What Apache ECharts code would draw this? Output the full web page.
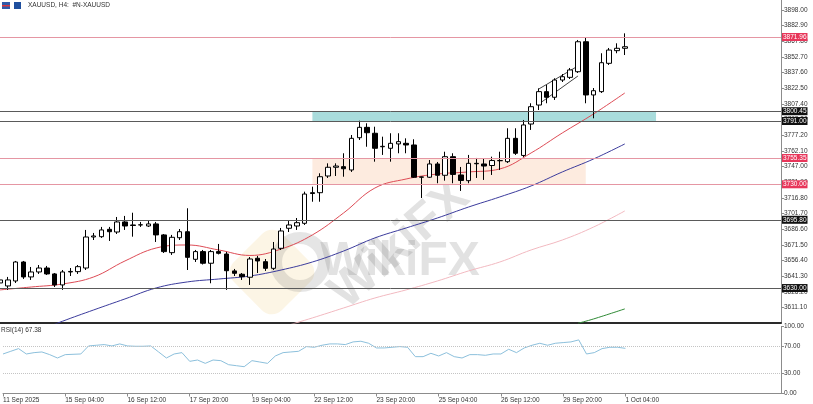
<!DOCTYPE html>
<html><head><meta charset="utf-8">
<style>html,body{margin:0;padding:0;background:#fff}#c{width:813px;height:404px}</style>
<script src="https://cdn.jsdelivr.net/npm/echarts@6/dist/echarts.min.js"></script>
</head><body><div id="c"></div>
<script>
const slotCount = 101; // 81 H4 bars + empty right-shift slots
const tickLabels = ['11 Sep 2025','15 Sep 04:00','16 Sep 12:00','17 Sep 20:00','19 Sep 04:00','22 Sep 12:00','23 Sep 20:00','25 Sep 04:00','26 Sep 12:00','29 Sep 20:00','1 Oct 04:00'];
const priceTicks = [3611.1,3626.2,3641.3,3656.4,3671.5,3686.6,3701.7,3716.8,3731.9,3747.0,3762.1,3777.2,3792.3,3807.4,3822.5,3837.6,3852.7,3867.8,3882.9,3898.0];
const rsiTicks = [0,30,70,100];
// [open, close, low, high]
const ohlc = [
[3634.9,3637.8,3632.0,3640.7],[3632.0,3637.8,3628.2,3640.7],[3636.8,3655.1,3634.9,3656.1],[3655.1,3640.7,3638.8,3656.1],
[3640.7,3645.5,3637.8,3650.3],[3645.5,3649.3,3643.6,3652.2],[3649.3,3643.6,3642.6,3651.3],[3643.6,3633.0,3631.0,3644.5],
[3633.0,3645.5,3628.2,3647.4],[3645.5,3646.0,3641.6,3649.3],[3645.8,3650.6,3643.6,3652.2],[3649.3,3679.2,3647.4,3686.0],
[3679.2,3680.2,3676.3,3683.1],[3679.5,3686.0,3678.3,3688.9],[3686.6,3684.3,3675.4,3688.9],[3684.0,3693.7,3682.1,3698.5],
[3693.7,3689.8,3686.0,3699.5],[3690.8,3690.3,3679.5,3702.6],[3690.8,3691.0,3688.9,3693.7],[3689.8,3691.8,3688.9,3694.6],
[3691.8,3681.2,3674.4,3693.7],[3681.2,3665.1,3663.8,3682.1],[3664.1,3678.9,3661.9,3681.2],[3678.5,3684.3,3676.3,3686.9],
[3684.3,3659.6,3647.4,3706.9],[3657.7,3665.1,3655.1,3666.7],[3665.1,3653.9,3652.7,3666.7],[3653.9,3665.1,3634.6,3666.7],
[3665.1,3663.5,3662.4,3672.5],[3662.8,3646.7,3628.2,3664.8],[3646.5,3644.2,3641.6,3648.4],[3643.3,3641.0,3637.8,3644.5],
[3640.4,3658.0,3633.0,3659.9],[3658.7,3656.1,3644.5,3660.9],[3655.4,3649.0,3646.5,3658.0],[3649.0,3667.6,3647.4,3674.4],
[3668.3,3685.0,3666.7,3687.9],[3687.6,3690.8,3684.0,3694.6],[3689.8,3693.0,3686.0,3697.5],[3692.4,3720.6,3690.8,3722.9],
[3721.9,3721.1,3713.2,3727.7],[3721.9,3737.3,3713.2,3740.6],[3738.0,3746.4,3736.1,3750.2],[3746.4,3747.6,3738.0,3750.2],
[3747.0,3745.0,3737.3,3759.9],[3743.8,3774.3,3741.9,3777.5],[3774.9,3784.9,3772.7,3791.3],[3784.9,3779.7,3766.2,3788.8],
[3779.2,3764.7,3751.8,3785.5],[3766.2,3766.6,3758.3,3775.9],[3764.7,3769.5,3751.8,3779.2],[3768.9,3771.1,3759.9,3779.2],
[3769.5,3767.9,3759.9,3774.3],[3767.9,3736.8,3736.1,3773.4],[3736.8,3737.1,3716.8,3737.5],[3736.8,3749.6,3736.1,3753.4],
[3749.6,3738.7,3731.0,3751.5],[3738.7,3756.6,3733.5,3761.4],[3756.6,3739.5,3731.0,3759.9],[3739.0,3733.7,3723.6,3746.7],
[3733.5,3750.2,3731.0,3758.3],[3750.2,3749.8,3736.1,3755.4],[3749.6,3747.6,3734.2,3754.4],[3748.1,3752.9,3739.0,3756.6],
[3752.7,3752.9,3743.8,3761.4],[3751.8,3774.3,3750.5,3784.0],[3774.3,3759.9,3758.3,3784.0],[3757.8,3787.2,3756.3,3792.0],
[3788.1,3804.8,3782.4,3808.1],[3806.4,3819.3,3801.6,3822.5],[3819.3,3813.9,3808.1,3825.7],[3813.9,3830.5,3811.3,3832.2],
[3830.5,3833.7,3828.6,3836.3],[3833.1,3840.2,3831.5,3842.1],[3838.5,3867.4,3837.3,3869.1],[3867.4,3816.1,3808.1,3871.96],
[3816.1,3820.2,3793.6,3822.8],[3819.3,3847.2,3818.0,3856.3],[3846.6,3859.4,3845.0,3861.4],[3858.8,3861.1,3856.3,3865.9],
[3861.1,3862.6,3854.6,3875.5]
];
const rsi = [59,63,67,59,61,62,58,53,58,58.5,59,71,72,73,71,74,71,70.5,70.5,71,
62,53,59,61,48,50,45,50,49,43,41.5,40,49,47,45,56,61,62,63,
70,69,72,74,74,73,77,78,75,68,68,69,70,69,55,55,60,56,61,55,
53,58,58,57,59,59,66,61,68,72,75,72,75,76,77,80,59,61,67,69,69,67.38];
// moving averages read at sampled bars: [barIndex, price]
const maFast = [[0,3628.2],[4,3631.0],[8,3633.9],[12,3640.7],[16,3656.1],[20,3668.6],[24,3671.5],[28,3666.7],[32,3661.4],[36,3667.6],[40,3681.2],[44,3702.4],[48,3726.4],[52,3735.1],[56,3739.9],[60,3741.9],[64,3744.8],[68,3760.2],[72,3779.5],[76,3797.8],[80,3818.0]];
const maMid = [[6,3592.0],[8,3598.0],[12,3608.9],[16,3619.5],[20,3630.1],[24,3635.9],[28,3638.7],[32,3641.6],[36,3647.4],[40,3655.1],[44,3665.7],[48,3678.3],[52,3687.9],[56,3697.5],[60,3708.1],[64,3717.8],[68,3728.4],[72,3741.9],[76,3754.4],[80,3768.9]];
const maSlow = [[37,3594.4],[40,3601.2],[44,3610.8],[48,3620.4],[52,3628.2],[56,3636.8],[60,3646.5],[64,3655.1],[68,3666.7],[72,3676.3],[76,3688.8],[80,3704.3]];
const maLong = [[74,3596.0],[76,3600.2],[80,3609.9]];
const trendUpper = [[69,3821.9],[74,3844.0]];
const trendLower = [[69,3807.4],[74,3834.4]];
const redLevels = [3871.96, 3755.35, 3730.00];
const blackLevels = [3800.45, 3791.00, 3695.80, 3630.00];
const zoneCyan = [40, 84, 3800.45, 3791.00];
const zonePeach = [40, 75, 3755.35, 3730.00];

const FONT = 'Liberation Sans';
const cats = Array.from({length: slotCount}, (_, i) => i);
const isTick = (i) => i % 8 === 0 && i / 8 < tickLabels.length;
const levelItem = (v, lineColor, tagColor) => ({
  yAxis: v,
  lineStyle: {color: lineColor, width: 1, type: 'solid'},
  label: {show: true, position: 'end', distance: 1, formatter: () => v.toFixed(2),
    color: '#fff', backgroundColor: tagColor, padding: [1, 1, 0, 1], fontSize: 6.5, fontFamily: FONT, lineHeight: 7}
});
const maSeries = (data, color) => ({type: 'line', xAxisIndex: 0, yAxisIndex: 0, data, smooth: 0.4, symbol: 'none', z: 2, silent: true,
  lineStyle: {color, width: 1}});

const chart = echarts.init(document.getElementById('c'));
chart.setOption({
  animation: false,
  backgroundColor: '#fff',
  textStyle: {fontFamily: FONT},
  grid: [
    {left: 0, right: 32, top: 0, height: 323},
    {left: 0, right: 32, top: 326.5, height: 67}
  ],
  xAxis: [
    {type: 'category', gridIndex: 0, data: cats, boundaryGap: false,
      axisLine: {show: true, lineStyle: {color: '#2a2a2a', width: 2}}, axisTick: {show: false}, axisLabel: {show: false}, splitLine: {show: false}},
    {type: 'category', gridIndex: 1, data: cats, boundaryGap: false,
      axisLine: {show: true, lineStyle: {color: '#8c8c8c', width: 1}},
      axisTick: {show: true, interval: (i) => isTick(i), length: 3, lineStyle: {color: '#8c8c8c'}},
      axisLabel: {interval: (i) => isTick(i), formatter: (v) => tickLabels[Number(v) / 8] || '', align: 'left', margin: 3, fontSize: 6.5, color: '#333'},
      splitLine: {show: false}}
  ],
  yAxis: [
    {type: 'value', gridIndex: 0, position: 'right', min: 3596.3, max: 3907.64, scale: true,
      axisLine: {show: true, lineStyle: {color: '#8c8c8c'}},
      axisTick: {show: true, length: 3, customValues: priceTicks, lineStyle: {color: '#8c8c8c'}},
      axisLabel: {customValues: priceTicks, formatter: (v) => Number(v).toFixed(2), fontSize: 6.5, color: '#333', margin: 3},
      splitLine: {show: false}},
    {type: 'value', gridIndex: 1, position: 'right', min: 0, max: 100,
      axisLine: {show: true, lineStyle: {color: '#8c8c8c'}},
      axisTick: {show: true, length: 3, customValues: rsiTicks, lineStyle: {color: '#8c8c8c'}},
      axisLabel: {customValues: rsiTicks, formatter: (v) => Number(v).toFixed(2), fontSize: 6.5, color: '#333', margin: 3},
      splitLine: {show: false}}
  ],
  series: [
    {type: 'line', xAxisIndex: 0, yAxisIndex: 0, data: [], z: 1, silent: true,
      markArea: {silent: true, data: [
        [{xAxis: zoneCyan[0], yAxis: zoneCyan[2], itemStyle: {color: '#a9dcdc'}}, {xAxis: zoneCyan[1], yAxis: zoneCyan[3]}],
        [{xAxis: zonePeach[0], yAxis: zonePeach[2], itemStyle: {color: '#fdebdf'}}, {xAxis: zonePeach[1], yAxis: zonePeach[3]}]
      ]},
      markLine: {silent: true, symbol: ['none', 'none'], animation: false, data: [
        ...redLevels.map(v => levelItem(v, '#e596a3', '#e8365a')),
        ...blackLevels.map(v => levelItem(v, '#5a5a5a', '#111'))
      ]}},
    maSeries(maSlow, '#f2b9c0'),
    maSeries(maLong, '#2f8a35'),
    maSeries(maMid, '#3b3b9c'),
    maSeries(maFast, '#dd4b55'),
    {type: 'line', xAxisIndex: 0, yAxisIndex: 0, data: trendUpper, symbol: 'none', z: 2, silent: true, lineStyle: {color: '#444', width: 1}},
    {type: 'line', xAxisIndex: 0, yAxisIndex: 0, data: trendLower, symbol: 'none', z: 2, silent: true, lineStyle: {color: '#444', width: 1}},
    {type: 'candlestick', xAxisIndex: 0, yAxisIndex: 0, data: ohlc, barWidth: 5, z: 3, silent: true,
      itemStyle: {color: '#fff', color0: '#000', borderColor: '#000', borderColor0: '#000', borderWidth: 1}},
    {type: 'line', xAxisIndex: 1, yAxisIndex: 1, data: rsi, symbol: 'none', silent: true,
      lineStyle: {color: '#8cc0dc', width: 1},
      markLine: {silent: true, symbol: ['none', 'none'], label: {show: false},
        lineStyle: {color: '#c4c4c4', type: 'dotted', width: 1}, data: [{yAxis: 70}, {yAxis: 30}]}}
  ],
  graphic: [
    {type: 'rect', shape: {x: 2, y: 2, width: 8, height: 7}, style: {fill: '#2f5aa8'}},
    {type: 'rect', shape: {x: 2, y: 5, width: 8, height: 1.5}, style: {fill: '#d9363e'}},
    {type: 'rect', shape: {x: 14, y: 2, width: 7, height: 7}, style: {fill: '#1f4f9e'}},
    {type: 'text', x: 28, y: 2, style: {text: 'XAUUSD, H4:  #N-XAUUSD', fill: '#333', font: '6.5px "Liberation Sans"'}},
    {type: 'text', x: 1, y: 327, style: {text: 'RSI(14) ' + rsi[rsi.length - 1].toFixed(2), fill: '#333', font: '6.5px "Liberation Sans"'}},
    {type: 'rect', x: 272, y: 272, rotation: 0.78, shape: {x: -34, y: -34, width: 68, height: 68, r: 14}, style: {fill: 'rgba(246,226,180,0.35)'}},
    {type: 'circle', x: 300, y: 262, shape: {cx: 0, cy: 0, r: 24}, style: {fill: 'none', stroke: 'rgba(110,110,110,0.18)', lineWidth: 12}},
    {type: 'text', x: 400, y: 245, rotation: 0.72, style: {text: 'WikiFX', fill: 'rgba(110,110,110,0.2)', font: 'bold 50px "Liberation Sans"', align: 'center', verticalAlign: 'middle'}},
    {type: 'text', x: 400, y: 262, style: {text: 'WikiFX', fill: 'rgba(110,110,110,0.2)', font: 'bold 48px "Liberation Sans"', align: 'center', verticalAlign: 'middle'}}
  ]
});
</script></body></html>
